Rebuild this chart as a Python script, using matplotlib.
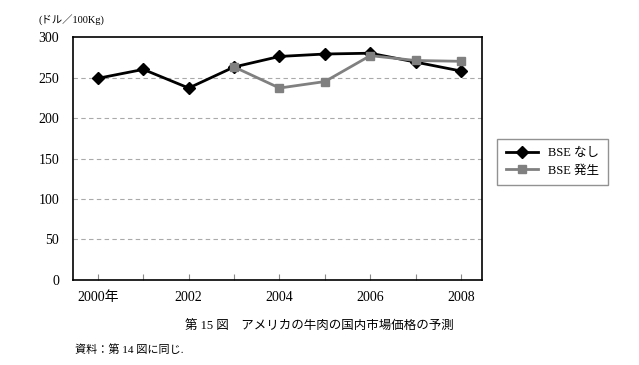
import matplotlib
matplotlib.use("Agg")
from matplotlib import pyplot as plt

plt.rcParams['font.family'] = ['Liberation Serif', 'Noto Sans CJK JP']

years = [2000, 2001, 2002, 2003, 2004, 2005, 2006, 2007, 2008]
bse_none = [249, 260, 237, 263, 276, 279, 280, 269, 258]
years_bse = [2003, 2004, 2005, 2006, 2007, 2008]
bse_case = [263, 237, 245, 277, 271, 270]
xlabels = ["2000年", "", "2002", "", "2004", "", "2006", "", "2008"]

fig = plt.figure(figsize=(6.39, 3.65), dpi=100)
ax = fig.add_axes([0.1142, 0.2329, 0.640, 0.6657])

ax.plot(years, bse_none, color="black", lw=2, marker="D", ms=6, label="BSE なし", zorder=3)
ax.plot(years_bse, bse_case, color="#808080", lw=2, marker="s", ms=6, label="BSE 発生", zorder=4)

ax.set_xlim(1999.45, 2008.46)
ax.set_ylim(0, 300)
ax.set_yticks(range(0, 301, 50))
ax.set_xticks(years)
ax.set_xticklabels(xlabels)
ax.tick_params(axis="x", direction="in", length=4, labelsize=10, pad=8, color="#888888")
ax.tick_params(axis="y", length=0, labelsize=10, pad=10)
for v in range(50, 300, 50):
    ax.axhline(v, color="#aaaaaa", lw=0.8, ls=(0, (4, 3)), zorder=1)
for s in ax.spines.values():
    s.set_linewidth(1.2)

fig.text(0.06, 0.935, "(ドル／100Kg)", fontsize=7.5)
fig.text(0.50, 0.095, "第 15 図　アメリカの牛肉の国内市場価格の予測", fontsize=9, ha="center")
fig.text(0.117, 0.032, "資料：第 14 図に同じ.", fontsize=8)

leg = fig.legend(loc="upper left", bbox_to_anchor=(0.768, 0.637), frameon=True,
                 fancybox=False, edgecolor="#777777", fontsize=9, handlelength=2.6,
                 borderpad=0.7, labelspacing=0.4)
leg.get_frame().set_linewidth(1.0)

fig.savefig("out.png", dpi=100)
